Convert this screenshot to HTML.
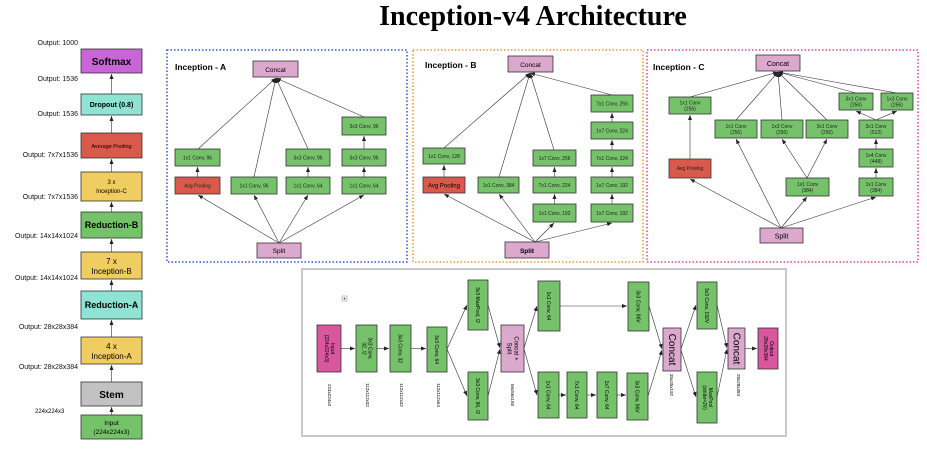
<!DOCTYPE html>
<html><head><meta charset="utf-8"><style>
html,body{margin:0;padding:0;background:#fff;}
svg{display:block;font-family:"Liberation Sans",sans-serif;}
.t{font-size:5px;text-anchor:middle;fill:#222;}
.l{font-size:7px;text-anchor:end;fill:#111;}
.b{stroke:#333;stroke-width:0.8;}
.g{fill:#76c26b;}
.p{fill:#dca8cd;}
.r{fill:#d95a4b;}
.y{fill:#f0cd60;}
.c{fill:#8ee3d2;}
.k{fill:#d8579f;}
line,path.a{stroke:#333;stroke-width:0.6;fill:none;marker-end:url(#ar);}
</style></head><body>
<svg width="927" height="453" viewBox="0 0 927 453" xmlns="http://www.w3.org/2000/svg">
<defs><marker id="ar" markerWidth="6" markerHeight="6" refX="5" refY="3" orient="auto" markerUnits="userSpaceOnUse"><path d="M0,1 L5,3 L0,5 Z" fill="#222"/></marker></defs>
<text x="533" y="25" text-anchor="middle" style="font-family:'Liberation Serif',serif;font-weight:bold;font-size:28px;">Inception-v4 Architecture</text>

<!-- left column -->
<g>
<rect x="81" y="49" width="61" height="24" fill="#c966d6" class="b"/><text x="111.5" y="65" text-anchor="middle" font-size="10" font-weight="bold">Softmax</text>
<rect x="81" y="94" width="61" height="21" class="b c"/><text x="111.5" y="107" text-anchor="middle" font-size="7" font-weight="bold">Dropout (0.8)</text>
<rect x="81" y="133" width="61" height="25" class="b r"/><text x="111.5" y="148" text-anchor="middle" font-size="5.5">Average Pooling</text>
<rect x="81" y="172" width="61" height="29" class="b y"/><text x="111.5" y="184" text-anchor="middle" font-size="6">3 x</text><text x="111.5" y="193" text-anchor="middle" font-size="6">Inception-C</text>
<rect x="81" y="212" width="61" height="26" class="b g"/><text x="111.5" y="228" text-anchor="middle" font-size="9" font-weight="bold">Reduction-B</text>
<rect x="81" y="252" width="61" height="27" class="b y"/><text x="111.5" y="264" text-anchor="middle" font-size="8">7 x</text><text x="111.5" y="274" text-anchor="middle" font-size="8">Inception-B</text>
<rect x="81" y="291" width="61" height="28" class="b c"/><text x="111.5" y="308" text-anchor="middle" font-size="9" font-weight="bold">Reduction-A</text>
<rect x="81" y="337" width="61" height="27" class="b y"/><text x="111.5" y="349" text-anchor="middle" font-size="8">4 x</text><text x="111.5" y="359" text-anchor="middle" font-size="8">Inception-A</text>
<rect x="81" y="382" width="61" height="24" fill="#c2c2c2" class="b"/><text x="111.5" y="398" text-anchor="middle" font-size="10" font-weight="bold">Stem</text>
<rect x="81" y="415" width="61" height="24" class="b g"/><text x="111.5" y="425" text-anchor="middle" font-size="6.5">Input</text><text x="111.5" y="434" text-anchor="middle" font-size="6.5">(224x224x3)</text>
<line x1="111.5" y1="94" x2="111.5" y2="74"/>
<line x1="111.5" y1="133" x2="111.5" y2="116"/>
<line x1="111.5" y1="172" x2="111.5" y2="159"/>
<line x1="111.5" y1="212" x2="111.5" y2="202"/>
<line x1="111.5" y1="252" x2="111.5" y2="239"/>
<line x1="111.5" y1="291" x2="111.5" y2="280"/>
<line x1="111.5" y1="337" x2="111.5" y2="320"/>
<line x1="111.5" y1="382" x2="111.5" y2="365"/>
<line x1="111.5" y1="415" x2="111.5" y2="407"/>
<text class="l" x="78" y="45">Output: 1000</text>
<text class="l" x="78" y="81">Output: 1536</text>
<text class="l" x="78" y="116">Output: 1536</text>
<text class="l" x="78" y="157">Output: 7x7x1536</text>
<text class="l" x="78" y="199" font-size="6.5">Output: 7x7x1536</text>
<text class="l" x="78" y="238" font-size="6">Output: 14x14x1024</text>
<text class="l" x="78" y="280">Output: 14x14x1024</text>
<text class="l" x="78" y="329">Output: 28x28x384</text>
<text class="l" x="78" y="369">Output: 28x28x384</text>
<text x="35" y="413" font-size="6">224x224x3</text>
</g>

<!-- Inception A -->
<rect x="167" y="50" width="240" height="212" fill="none" stroke="#3355dd" stroke-width="1.5" stroke-dasharray="1.5,2"/>
<text x="175" y="70" font-size="8.5" font-weight="bold">Inception - A</text>
<rect x="253" y="61" width="45" height="16" class="b p"/><text x="275.5" y="72" text-anchor="middle" font-size="6.5">Concat</text>
<rect x="257" y="243" width="44" height="15" class="b p"/><text x="279" y="253" text-anchor="middle" font-size="6.5">Split</text>
<rect x="175" y="177" width="45" height="17" class="b r"/><text class="t" x="197.5" y="187.5">Avg Pooling</text>
<rect x="231" y="177" width="46" height="17" class="b g"/><text class="t" x="254" y="187.5">1x1 Conv, 96</text>
<rect x="286" y="177" width="44" height="17" class="b g"/><text class="t" x="308" y="187.5">1x1 Conv, 64</text>
<rect x="342" y="177" width="44" height="17" class="b g"/><text class="t" x="364" y="187.5">1x1 Conv, 64</text>
<rect x="175" y="149" width="45" height="17" class="b g"/><text class="t" x="197.5" y="159.5">1x1 Conv, 96</text>
<rect x="286" y="149" width="44" height="17" class="b g"/><text class="t" x="308" y="159.5">3x3 Conv, 96</text>
<rect x="342" y="149" width="44" height="17" class="b g"/><text class="t" x="364" y="159.5">3x3 Conv, 96</text>
<rect x="342" y="117" width="44" height="18" class="b g"/><text class="t" x="364" y="128">3x3 Conv, 96</text>
<line x1="279" y1="243" x2="198" y2="195"/><line x1="279" y1="243" x2="254" y2="195"/><line x1="279" y1="243" x2="308" y2="195"/><line x1="279" y1="243" x2="364" y2="195"/>
<line x1="197.5" y1="177" x2="197.5" y2="167"/><line x1="308" y1="177" x2="308" y2="167"/><line x1="364" y1="177" x2="364" y2="167"/><line x1="364" y1="149" x2="364" y2="136"/>
<line x1="198" y1="149" x2="276" y2="78"/><line x1="254" y1="177" x2="276" y2="78"/><line x1="308" y1="149" x2="276" y2="78"/><line x1="364" y1="117" x2="276" y2="78"/>

<!-- Inception B -->
<rect x="413" y="50" width="230" height="212" fill="none" stroke="#ee9933" stroke-width="1.5" stroke-dasharray="1.5,2"/>
<text x="425" y="68" font-size="8.5" font-weight="bold">Inception - B</text>
<rect x="508" y="56" width="45" height="16" class="b p"/><text x="530.5" y="67" text-anchor="middle" font-size="6.5">Concat</text>
<rect x="505" y="242" width="44" height="16" class="b p"/><text x="527" y="253" text-anchor="middle" font-size="6.5" font-weight="bold">Split</text>
<rect x="423" y="148" width="42" height="16" class="b g"/><text class="t" x="444" y="158">1x1 Conv, 128</text>
<rect x="423" y="177" width="42" height="16" class="b r"/><text x="444" y="187.5" text-anchor="middle" font-size="6">Avg Pooling</text>
<rect x="478" y="177" width="41" height="16" class="b g"/><text class="t" x="498.5" y="187">1x1 Conv, 384</text>
<rect x="533" y="150" width="43" height="16" class="b g"/><text class="t" x="554.5" y="160">1x7 Conv, 256</text>
<rect x="533" y="177" width="43" height="16" class="b g"/><text class="t" x="554.5" y="187">7x1 Conv, 224</text>
<rect x="533" y="204" width="43" height="18" class="b g"/><text class="t" x="554.5" y="215">1x1 Conv, 192</text>
<rect x="591" y="95" width="42" height="17" class="b g"/><text class="t" x="612" y="105.5">7x1 Conv, 256</text>
<rect x="591" y="122" width="42" height="17" class="b g"/><text class="t" x="612" y="132.5">1x7 Conv, 224</text>
<rect x="591" y="150" width="42" height="16" class="b g"/><text class="t" x="612" y="160">7x1 Conv, 224</text>
<rect x="591" y="177" width="42" height="16" class="b g"/><text class="t" x="612" y="187">1x7 Conv, 192</text>
<rect x="591" y="204" width="42" height="18" class="b g"/><text class="t" x="612" y="215">1x7 Conv, 192</text>
<line x1="535" y1="242" x2="444" y2="194"/><line x1="535" y1="242" x2="499" y2="194"/><line x1="535" y1="242" x2="554" y2="223"/><line x1="535" y1="242" x2="612" y2="223"/>
<line x1="444" y1="177" x2="444" y2="165"/><line x1="554.5" y1="204" x2="554.5" y2="194"/><line x1="554.5" y1="177" x2="554.5" y2="167"/>
<line x1="612" y1="204" x2="612" y2="194"/><line x1="612" y1="177" x2="612" y2="167"/><line x1="612" y1="150" x2="612" y2="140"/><line x1="612" y1="122" x2="612" y2="113"/>
<line x1="444" y1="148" x2="530" y2="73"/><line x1="499" y1="177" x2="530" y2="73"/><line x1="554" y1="150" x2="530" y2="73"/><line x1="612" y1="95" x2="530" y2="73"/>

<!-- Inception C -->
<rect x="647" y="50" width="271" height="212" fill="none" stroke="#dd4499" stroke-width="1.5" stroke-dasharray="1.5,2"/>
<text x="653" y="70" font-size="8.5" font-weight="bold">Inception - C</text>
<rect x="756" y="55" width="44" height="16" class="b p"/><text x="778" y="66" text-anchor="middle" font-size="7">Concat</text>
<rect x="760" y="228" width="43" height="15" class="b p"/><text x="781.5" y="238.5" text-anchor="middle" font-size="7">Split</text>
<rect x="669" y="97" width="42" height="17" class="b g"/><text class="t" x="690" y="104.5" font-size="4.5">1x1 Conv</text><text class="t" x="690" y="110.5" font-size="4.5">(256)</text>
<rect x="669" y="159" width="42" height="19" class="b r"/><text class="t" x="690" y="170">Avg Pooling</text>
<rect x="715" y="120" width="42" height="18" class="b g"/><text class="t" x="736" y="128" font-size="4.5">1x1 Conv</text><text class="t" x="736" y="134" font-size="4.5">(256)</text>
<rect x="761" y="120" width="42" height="18" class="b g"/><text class="t" x="782" y="128" font-size="4.5">1x3 Conv</text><text class="t" x="782" y="134" font-size="4.5">(256)</text>
<rect x="806" y="120" width="42" height="18" class="b g"/><text class="t" x="827" y="128" font-size="4.5">3x1 Conv</text><text class="t" x="827" y="134" font-size="4.5">(256)</text>
<rect x="859" y="120" width="34" height="18" class="b g"/><text class="t" x="876" y="128" font-size="4.5">3x1 Conv</text><text class="t" x="876" y="134" font-size="4.5">(512)</text>
<rect x="839" y="93" width="34" height="17" class="b g"/><text class="t" x="856" y="100.5" font-size="4.5">3x1 Conv</text><text class="t" x="856" y="106.5" font-size="4.5">(256)</text>
<rect x="881" y="93" width="32" height="17" class="b g"/><text class="t" x="897" y="100.5" font-size="4.5">1x3 Conv</text><text class="t" x="897" y="106.5" font-size="4.5">(256)</text>
<rect x="859" y="149" width="34" height="18" class="b g"/><text class="t" x="876" y="157" font-size="4.5">1x4 Conv</text><text class="t" x="876" y="163" font-size="4.5">(448)</text>
<rect x="786" y="178" width="43" height="18" class="b g"/><text class="t" x="807.5" y="186" font-size="4.5">1x1 Conv</text><text class="t" x="807.5" y="192" font-size="4.5">(384)</text>
<rect x="859" y="178" width="34" height="18" class="b g"/><text class="t" x="876" y="186" font-size="4.5">1x1 Conv</text><text class="t" x="876" y="192" font-size="4.5">(384)</text>
<line x1="781" y1="228" x2="690" y2="179"/><line x1="781" y1="228" x2="736" y2="139"/><line x1="781" y1="228" x2="807" y2="197"/><line x1="781" y1="228" x2="876" y2="197"/>
<line x1="690" y1="159" x2="690" y2="115"/><line x1="807" y1="178" x2="782" y2="139"/><line x1="807" y1="178" x2="827" y2="139"/>
<line x1="876" y1="178" x2="876" y2="168"/><line x1="876" y1="149" x2="876" y2="139"/><line x1="876" y1="120" x2="856" y2="111"/><line x1="876" y1="120" x2="897" y2="111"/>
<line x1="690" y1="97" x2="778" y2="72"/><line x1="736" y1="120" x2="778" y2="72"/><line x1="782" y1="120" x2="778" y2="72"/><line x1="827" y1="120" x2="778" y2="72"/><line x1="856" y1="93" x2="778" y2="72"/><line x1="897" y1="93" x2="778" y2="72"/>

<!-- Stem -->
<rect x="302" y="269" width="484" height="167" fill="#fff" stroke="#c8c8c8" stroke-width="2"/>
<rect x="342" y="296" width="5" height="5" fill="#fff" stroke="#888" stroke-width="0.5"/><text x="344.5" y="300.5" text-anchor="middle" font-size="5">+</text>
<g font-size="5">
<rect x="317" y="325" width="24" height="47" class="b k"/><text transform="translate(329,348.5) rotate(90)" text-anchor="middle"><tspan x="0" dy="-2">Input</tspan><tspan x="0" dy="6">(224x224x3)</tspan></text>
<rect x="356" y="325" width="21" height="47" class="b g"/><text transform="translate(366.5,348.5) rotate(90)" text-anchor="middle"><tspan x="0" dy="-2">3x3 Conv,</tspan><tspan x="0" dy="6">32, /2</tspan></text>
<rect x="390" y="325" width="21" height="47" class="b g"/><text transform="translate(400.5,348.5) rotate(90)" text-anchor="middle" dy="2">3x3 Conv, 32</text>
<rect x="427" y="327" width="20" height="45" class="b g"/><text transform="translate(437,349.5) rotate(90)" text-anchor="middle" dy="2">3x3 Conv, 64</text>
<rect x="468" y="280" width="20" height="50" class="b g"/><text transform="translate(478,305) rotate(90)" text-anchor="middle" dy="2">3x3 MaxPool, /2</text>
<rect x="468" y="372" width="20" height="48" class="b g"/><text transform="translate(478,396) rotate(90)" text-anchor="middle" dy="2">3x3 Conv, 96, /2</text>
<rect x="501" y="325" width="23" height="47" class="b p"/><text transform="translate(512.5,348.5) rotate(90)" text-anchor="middle" font-size="6"><tspan x="0" dy="-2">Concat +</tspan><tspan x="0" dy="7">Split</tspan></text>
<rect x="538" y="281" width="22" height="50" class="b g"/><text transform="translate(549,306) rotate(90)" text-anchor="middle" dy="2">1x1 Conv, 64</text>
<rect x="538" y="372" width="21" height="46" class="b g"/><text transform="translate(548.5,395) rotate(90)" text-anchor="middle" dy="2">1x1 Conv, 64</text>
<rect x="567" y="372" width="20" height="46" class="b g"/><text transform="translate(577,395) rotate(90)" text-anchor="middle" dy="2">7x1 Conv, 64</text>
<rect x="597" y="372" width="20" height="46" class="b g"/><text transform="translate(607,395) rotate(90)" text-anchor="middle" dy="2">1x7 Conv, 64</text>
<rect x="628" y="282" width="21" height="49" class="b g"/><text transform="translate(638.5,306.5) rotate(90)" text-anchor="middle" dy="2">3x3 Conv, 96V</text>
<rect x="627" y="373" width="21" height="47" class="b g"/><text transform="translate(637.5,396.5) rotate(90)" text-anchor="middle" dy="2">3x3 Conv, 96V</text>
<rect x="663" y="328" width="18" height="43" class="b p"/><text transform="translate(672,349.5) rotate(90)" text-anchor="middle" dy="3" font-size="10">Concat</text>
<rect x="697" y="282" width="20" height="47" class="b g"/><text transform="translate(707,305.5) rotate(90)" text-anchor="middle" dy="2">3x3 Conv, 192V</text>
<rect x="697" y="372" width="20" height="51" class="b g"/><text transform="translate(707,397.5) rotate(90)" text-anchor="middle"><tspan x="0" dy="-2">MaxPool</tspan><tspan x="0" dy="6">(stride=2V)</tspan></text>
<rect x="728" y="328" width="17" height="41" class="b p"/><text transform="translate(736.5,348.5) rotate(90)" text-anchor="middle" dy="3" font-size="10">Concat</text>
<rect x="758" y="328" width="20" height="41" class="b k"/><text transform="translate(768,348.5) rotate(90)" text-anchor="middle"><tspan x="0" dy="-2">Output</tspan><tspan x="0" dy="6">28x28x384</tspan></text>
<text transform="translate(328,395) rotate(90)" text-anchor="middle" font-size="4.5">224x224x3</text>
<text transform="translate(366,395) rotate(90)" text-anchor="middle" font-size="4.5">112x112x32</text>
<text transform="translate(400,395) rotate(90)" text-anchor="middle" font-size="4.5">112x112x32</text>
<text transform="translate(437,395) rotate(90)" text-anchor="middle" font-size="4.5">112x112x64</text>
<text transform="translate(511,395) rotate(90)" text-anchor="middle" font-size="4.5">56x56x160</text>
<text transform="translate(670,385) rotate(90)" text-anchor="middle" font-size="4.5">35x35x192</text>
<text transform="translate(737,385) rotate(90)" text-anchor="middle" font-size="4.5">28x28x384</text>
</g>
<line x1="341" y1="348.5" x2="355" y2="348.5"/><line x1="377" y1="348.5" x2="389" y2="348.5"/><line x1="411" y1="348.5" x2="426" y2="348.5"/>
<line x1="447" y1="349" x2="467" y2="305"/><line x1="447" y1="349" x2="467" y2="396"/>
<line x1="488" y1="305" x2="500" y2="348"/><line x1="488" y1="396" x2="500" y2="349"/>
<line x1="524" y1="348" x2="537" y2="306"/><line x1="524" y1="349" x2="537" y2="395"/>
<line x1="560" y1="306" x2="627" y2="306"/><line x1="559" y1="395" x2="566" y2="395"/><line x1="587" y1="395" x2="596" y2="395"/><line x1="617" y1="395" x2="626" y2="395"/>
<line x1="649" y1="306" x2="662" y2="349"/><line x1="648" y1="396" x2="662" y2="350"/>
<line x1="681" y1="349" x2="696" y2="305"/><line x1="681" y1="350" x2="696" y2="397"/>
<line x1="717" y1="305" x2="727" y2="348"/><line x1="717" y1="397" x2="727" y2="349"/>
<line x1="745" y1="348.5" x2="757" y2="348.5"/>
</svg>
</body></html>
